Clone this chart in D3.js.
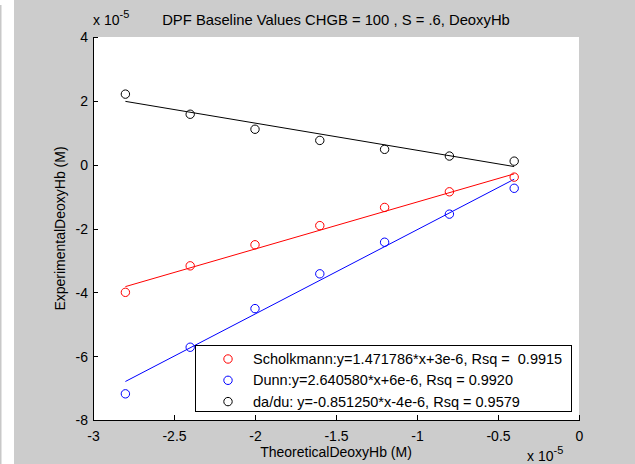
<!DOCTYPE html>
<html>
<head>
<meta charset="utf-8">
<script src="https://cdn.jsdelivr.net/npm/d3@7"></script>
<style>
html,body{margin:0;padding:0;background:#fff;}
svg{display:block;}
text{font-family:Arial,"Liberation Sans",Helvetica,sans-serif;fill:#000;}
</style>
</head>
<body>
<svg id="chart" width="635" height="464"></svg>
<script>
// ---- data (units of 1e-5 M) ----
const theoretical = [-2.8, -2.4, -2.0, -1.6, -1.2, -0.8, -0.4];
const scholkmann = [-4.00, -3.17, -2.51, -1.91, -1.34, -0.85, -0.39];
const dunn = [-7.18, -5.72, -4.51, -3.42, -2.43, -1.55, -0.74];
const dadu = [2.21, 1.58, 1.11, 0.76, 0.48, 0.27, 0.11];
const seriesNames = ["Scholkmann", "Dunn", "da/du"];
const seriesColors = ["#ff0000", "#0000ff", "#000000"];
const fitSlopes = [1.471786, 2.640580, -0.851250];
const fitIntercepts = [0.3, 0.6, -0.4]; // 3e-6, 6e-6, -4e-6 in 1e-5 units
const legendLabels = [
  "Scholkmann:y=1.471786*x+3e-6, Rsq =  0.9915",
  "Dunn:y=2.640580*x+6e-6, Rsq = 0.9920",
  "da/du: y=-0.851250*x-4e-6, Rsq = 0.9579"
];
const xTicks = [-3, -2.5, -2, -1.5, -1, -0.5, 0];
const yTicks = [-8, -6, -4, -2, 0, 2, 4];
const titleText = "DPF Baseline Values CHGB = 100 , S = .6, DeoxyHb";
const xLabel = "TheoreticalDeoxyHb (M)";
const yLabel = "ExperimentalDeoxyHb (M)";

const svg = d3.select("#chart");
const W = 635, H = 464;
const L = 93, R = 579, T = 37, B = 420;

// figure background
svg.append("rect").attr("x", 0).attr("y", 0).attr("width", W).attr("height", H).attr("fill", "#fff");
svg.append("rect").attr("x", 0).attr("y", 5).attr("width", 1.5).attr("height", H - 5).attr("fill", "#c8c8c8");
svg.append("rect").attr("x", 14).attr("y", 0).attr("width", W - 14).attr("height", H).attr("fill", "#cccccc");

const x = d3.scaleLinear().domain([-3, 0]).range([L, R]);
const y = d3.scaleLinear().domain([-8, 4]).range([B, T]);

// axes background
svg.append("rect").attr("x", L).attr("y", T).attr("width", R - L).attr("height", B - T).attr("fill", "#fff");

const fs = "14px";
// x axis
const gx = svg.append("g").attr("transform", `translate(0,${B})`)
  .call(d3.axisBottom(x).tickValues(xTicks).tickSizeInner(-5).tickSizeOuter(0).tickPadding(0).tickFormat(d => String(d)));
gx.select(".domain").attr("stroke", "#000").attr("shape-rendering", "crispEdges");
gx.selectAll(".tick line").attr("stroke", "#000").attr("shape-rendering", "crispEdges");
gx.selectAll(".tick text").attr("y", 21).attr("dy", 0).style("font-size", fs).attr("font-family", null);

// y axis
const gy = svg.append("g").attr("transform", `translate(${L},0)`)
  .call(d3.axisLeft(y).tickValues(yTicks).tickSizeInner(-5).tickSizeOuter(0).tickPadding(0).tickFormat(d => String(d)));
gy.select(".domain").attr("stroke", "#000").attr("shape-rendering", "crispEdges");
gy.selectAll(".tick line").attr("stroke", "#000").attr("shape-rendering", "crispEdges");
gy.selectAll(".tick text").attr("x", -5).attr("dy", "0.35em").style("font-size", fs).attr("font-family", null);
svg.selectAll(".tick text").attr("fill", "#000");

// fit lines and markers
const series = [scholkmann, dunn, dadu];
const xMin = d3.min(theoretical), xMax = d3.max(theoretical);
series.forEach((vals, i) => {
  const fit = [xMin, xMax].map(t => [t, fitSlopes[i] * t + fitIntercepts[i]]);
  svg.append("path")
    .attr("d", d3.line().x(d => x(d[0])).y(d => y(d[1]))(fit))
    .attr("fill", "none").attr("stroke", seriesColors[i]).attr("stroke-width", 1);
});
series.forEach((vals, i) => {
  svg.append("g").selectAll("circle").data(vals).join("circle")
    .attr("cx", (d, j) => x(theoretical[j]))
    .attr("cy", d => y(d))
    .attr("r", 4.2)
    .attr("fill", "none").attr("stroke", seriesColors[i]).attr("stroke-width", 1);
});

// legend
const lg = svg.append("g");
lg.append("rect").attr("x", 195.5).attr("y", 345.5).attr("width", 376).attr("height", 66)
  .attr("fill", "#fff").attr("stroke", "#000").attr("stroke-width", 1);
legendLabels.forEach((lab, i) => {
  const cy = 359 + i * 21.3;
  lg.append("circle").attr("cx", 228).attr("cy", cy).attr("r", 4.2)
    .attr("fill", "none").attr("stroke", seriesColors[i]).attr("stroke-width", 1);
  lg.append("text").attr("x", 253).attr("y", cy).attr("dy", "0.35em")
    .style("font-size", "14.5px").style("white-space", "pre").attr("xml:space", "preserve").text(lab);
});

// title
svg.append("text").attr("x", (L + R) / 2).attr("y", 25).attr("text-anchor", "middle")
  .style("font-size", "14.8px").text(titleText);

// axis labels
svg.append("text").attr("x", (L + R) / 2).attr("y", 457).attr("text-anchor", "middle")
  .style("font-size", fs).text(xLabel);
svg.append("text").attr("transform", `translate(65,${(T + B) / 2}) rotate(-90)`).attr("text-anchor", "middle")
  .style("font-size", fs).text(yLabel);

// exponent labels
function expLabel(xp, yp) {
  const t = svg.append("text").attr("x", xp).attr("y", yp).style("font-size", fs);
  t.append("tspan").text("x 10");
  t.append("tspan").attr("dy", -7).style("font-size", "11px").text("-5");
}
expLabel(93, 25);
expLabel(527, 461);
</script>
</body>
</html>
